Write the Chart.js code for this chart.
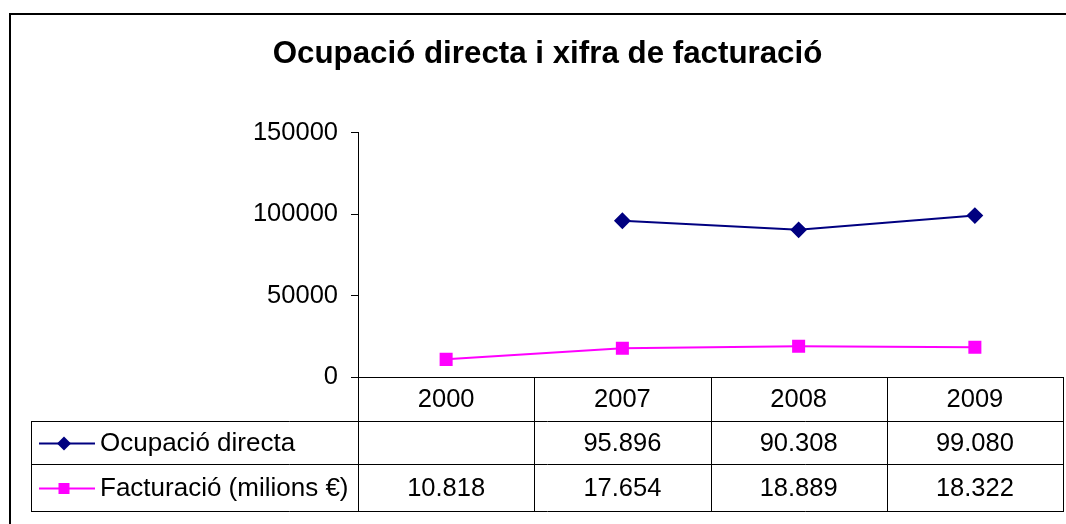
<!DOCTYPE html>
<html>
<head>
<meta charset="utf-8">
<script src="https://cdn.jsdelivr.net/npm/chart.js"></script>
<style>
  html, body { margin: 0; padding: 0; background: #fff; }
</style>
</head>
<body>
<canvas id="grafic" width="1066" height="524"></canvas>
<script>
// dades del gràfic
const anys = ['2000', '2007', '2008', '2009'];
const ocupacio = [null, 95896, 90308, 99080];
const facturacio = [10818, 17654, 18889, 18322];
const ticksY = [0, 50000, 100000, 150000];
const nomsSeries = ['Ocupació directa', 'Facturació (milions €)'];
const titol = 'Ocupació directa i xifra de facturació';

const FONT = '"Liberation Sans", Arial, sans-serif';
const colors = ['#000080', '#ff00ff'];

// 95896 -> "95.896"
function formatNum(n) {
  if (n == null) return '';
  return String(n).replace(/\B(?=(\d{3})+(?!\d))/g, '.');
}

function marcador(ctx, tipus, x, y, color) {
  ctx.fillStyle = color;
  ctx.beginPath();
  if (tipus == 'rectRot') {
    ctx.moveTo(x, y - 7); ctx.lineTo(x + 7, y); ctx.lineTo(x, y + 7); ctx.lineTo(x - 7, y);
  } else {
    ctx.rect(x - 5.5, y - 5.5, 11, 11);
  }
  ctx.closePath();
  ctx.fill();
}

//marc exterior
const marcPlugin = {
  id: 'marc',
  beforeDraw(chart) {
    const ctx = chart.ctx;
    ctx.save();
    ctx.fillStyle = '#fff';
    ctx.fillRect(0, 0, chart.width, chart.height);
    ctx.strokeStyle = '#000';
    ctx.lineWidth = 2;
    ctx.beginPath();
    ctx.moveTo(10, chart.height);
    ctx.lineTo(10, 14);
    ctx.lineTo(chart.width, 14);
    ctx.stroke();
    ctx.restore();
  }
};

//taula de dades sota l'eix
const taulaPlugin = {
  id: 'taula',
  afterDraw(chart) {
    const ctx = chart.ctx;
    const area = chart.chartArea;
    const sx = chart.scales.x;
    const pas = (area.right - area.left) / anys.length;
    const files = [area.bottom, 421, 464, 511];
    const esq = 31;
    const series = [ocupacio, facturacio];
    const punts = ['rectRot', 'rect'];

    ctx.save();
    ctx.strokeStyle = '#000';
    ctx.lineWidth = 1;
    ctx.beginPath();
    for (let i = 1; i < files.length; i++) {
      ctx.moveTo(esq, files[i] + 0.5);
      ctx.lineTo(area.right + 1, files[i] + 0.5);
    }
    for (let i = 0; i <= anys.length; i++) {
      const vx = Math.round(area.left + pas * i) + 0.5;
      ctx.moveTo(vx, files[0]);
      ctx.lineTo(vx, files[3] + 1);
    }
    ctx.moveTo(esq + 0.5, files[1]);
    ctx.lineTo(esq + 0.5, files[3] + 1);
    ctx.stroke();

    ctx.fillStyle = '#000';
    ctx.font = '25.5px ' + FONT;
    ctx.textAlign = 'center';
    ctx.textBaseline = 'middle';
    anys.forEach(function (a, i) {
      ctx.fillText(a, sx.getPixelForValue(i), (files[0] + files[1]) / 2 + 1);
    });
    series.forEach(function (s, r) {
      const yMid = (files[r + 1] + files[r + 2]) / 2 + 1;
      ctx.font = '25.5px ' + FONT;
      s.forEach(function (v, i) {
        ctx.fillStyle = '#000';
        ctx.fillText(formatNum(v), sx.getPixelForValue(i), yMid);
      });
      // llegenda
      ctx.strokeStyle = colors[r];
      ctx.lineWidth = 2;
      ctx.beginPath();
      ctx.moveTo(esq + 8, yMid);
      ctx.lineTo(esq + 64, yMid);
      ctx.stroke();
      marcador(ctx, punts[r], esq + 33, yMid, colors[r]);
      ctx.fillStyle = '#000';
      ctx.textAlign = 'left';
      ctx.font = '26px ' + FONT;
      ctx.fillText(nomsSeries[r], esq + 69, yMid);
      ctx.textAlign = 'center';
    });
    ctx.restore();
  }
};

const config = {
  type: 'line',
  data: {
    labels: anys,
    datasets: [
      {
        label: nomsSeries[0],
        data: ocupacio,
        borderColor: colors[0],
        backgroundColor: colors[0],
        borderWidth: 2,
        pointStyle: 'rectRot',
        pointRadius: 7,
        pointHoverRadius: 7,
        tension: 0
      },
      {
        label: nomsSeries[1],
        data: facturacio,
        borderColor: colors[1],
        backgroundColor: colors[1],
        borderWidth: 2,
        pointStyle: 'rect',
        pointRadius: 7.8,
        pointHoverRadius: 7.8,
        tension: 0
      }
    ]
  },
  options: {
    responsive: false,
    animation: false,
    devicePixelRatio: 1,
    layout: {
      autoPadding: false,
      padding: { left: 32, right: 3, top: 0, bottom: 147 }
    },
    plugins: {
      legend: { display: false },
      tooltip: { enabled: false },
      title: {
        display: true,
        text: titol,
        color: '#000',
        font: { family: FONT, size: 31.3, weight: 'bold' },
        padding: { top: 36, bottom: 59 }
      }
    },
    scales: {
      x: {
        offset: true,
        grid: { display: false, drawTicks: false },
        border: { display: true, color: '#000', width: 1 },
        ticks: { display: false },
        afterFit: function (scale) { scale.height = 0; }
      },
      y: {
        min: ticksY[0],
        max: ticksY[ticksY.length - 1],
        ticks: {
          stepSize: ticksY[1] - ticksY[0],
          color: '#000',
          padding: 13,
          font: { family: FONT, size: 25.5 },
          callback: function (v) { return String(v); }
        },
        grid: { drawOnChartArea: false, drawTicks: true, tickLength: 7, color: '#000' },
        border: { display: true, color: '#000', width: 1 },
        afterFit: function (scale) { scale.width = 326; }
      }
    }
  },
  plugins: [marcPlugin, taulaPlugin]
};

var grafic = new Chart(document.getElementById('grafic'), config);
</script>
</body>
</html>
